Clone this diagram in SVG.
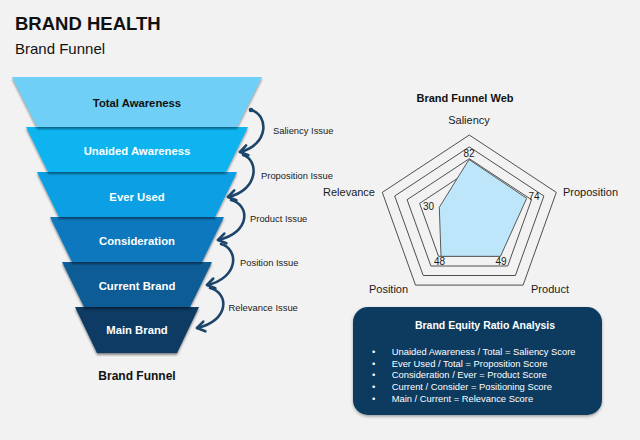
<svg xmlns="http://www.w3.org/2000/svg" width="640" height="440" viewBox="0 0 640 440">
<style>
.t{font-family:"Liberation Sans",Arial,sans-serif}
.lay{font-family:"Liberation Sans",Arial,sans-serif;font-weight:bold;font-size:11.3px;text-anchor:middle;fill:#fff}
.iss{font-family:"Liberation Sans",Arial,sans-serif;font-size:9.4px;fill:#1a1a1a}
.ax{font-family:"Liberation Sans",Arial,sans-serif;font-size:11px;fill:#1a1a1a}
.val{font-family:"Liberation Sans",Arial,sans-serif;font-size:10px;fill:#1a1a1a;text-anchor:middle}
.ring{fill:none;stroke:#3c3c3c;stroke-width:0.9}
.arc{fill:none;stroke:#1d4469;stroke-width:2.6;stroke-linecap:round;marker-end:url(#chev)}
.bl{font-family:"Liberation Sans",Arial,sans-serif;font-size:9.4px;fill:#fff}
</style>
<defs>
<filter id="sh" x="-10%" y="-10%" width="120%" height="140%">
<feDropShadow dx="0" dy="2" stdDeviation="1" flood-color="#000" flood-opacity="0.45"/>
</filter>
<filter id="bsh" x="-10%" y="-10%" width="120%" height="130%">
<feDropShadow dx="0" dy="1.5" stdDeviation="1.5" flood-color="#000" flood-opacity="0.35"/>
</filter>
<marker id="chev" markerUnits="userSpaceOnUse" markerWidth="16" markerHeight="16" refX="0" refY="0" viewBox="-10 -8 12 16" orient="auto">
<path d="M-7.5,-5 L0,0 L-7.5,5" fill="none" stroke="#1d4469" stroke-width="2.6" stroke-linecap="round" stroke-linejoin="round"/>
</marker>
</defs>
<rect width="640" height="440" fill="#f2f2f2"/>
<text class="t" x="15" y="30" font-size="18.5" font-weight="bold" fill="#111">BRAND HEALTH</text>
<text class="t" x="15" y="54" font-size="15" fill="#111">Brand Funnel</text>

<g id="funnel">
<g id="main-brand"><path d="M75,307 L199,307 L177,353 L97,353 Z" fill="#0b3b64" filter="url(#sh)"/><text class="lay" x="137" y="334">Main Brand</text></g>
<g id="current-brand"><path d="M62,262 L212,262 L190,307 L84,307 Z" fill="#0c5b95" filter="url(#sh)"/><text class="lay" x="137" y="290">Current Brand</text></g>
<g id="consideration"><path d="M50,217 L224,217 L202,262 L72,262 Z" fill="#0a78bd" filter="url(#sh)"/><text class="lay" x="137" y="245">Consideration</text></g>
<g id="ever-used"><path d="M37,172 L237,172 L215,217 L59,217 Z" fill="#079fe3" filter="url(#sh)"/><text class="lay" x="137" y="201">Ever Used</text></g>
<g id="unaided-awareness"><path d="M26,127 L248,127 L226,172 L48,172 Z" fill="#0bb4ef" filter="url(#sh)"/><text class="lay" x="137" y="155">Unaided Awareness</text></g>
<g id="total-awareness"><path d="M12,77 L262,77 L237,127 L37,127 Z" fill="#6fcff7" filter="url(#sh)"/><text class="lay" x="137" y="106.5" fill="#111" style="fill:#111">Total Awareness</text></g>
</g>
<text class="t" x="137" y="379.5" font-size="12" font-weight="bold" text-anchor="middle" fill="#111">Brand Funnel</text>

<g id="connectors">
<circle cx="251" cy="110" r="2.3" fill="#1d4469"/>
<path class="arc" d="M251,110 C269,115 269,145 240,152"/>
<path class="arc" d="M243,155 C259,160 259,190 228,197"/>
<path class="arc" d="M231,200 C250.5,205 250.5,233 218,240"/>
<path class="arc" d="M221,244 C239,249 239,278 207,285"/>
<path class="arc" d="M210,288 C229.5,293 229.5,321 197,328"/>
</g>
<g id="issue-labels">
<text class="iss" x="273" y="134">Saliency Issue</text>
<text class="iss" x="261" y="178.5">Proposition Issue</text>
<text class="iss" x="250" y="222">Product Issue</text>
<text class="iss" x="240" y="266">Position Issue</text>
<text class="iss" x="228.5" y="311">Relevance Issue</text>
</g>

<g id="radar">
<text class="t" x="465" y="101.5" font-size="11" font-weight="bold" text-anchor="middle" fill="#111">Brand Funnel Web</text>
<polygon class="ring" points="469.3,135 556.3,192.4 523.1,285.1 415.5,285.1 382.3,192.4"/>
<polygon class="ring" points="469.3,146.9 543.9,196 515.4,275.5 423.2,275.5 394.7,196"/>
<polygon class="ring" points="469.3,158.7 531.5,199.7 507.7,266 430.9,266 407.1,199.7"/>
<polygon class="ring" points="469.3,170.6 519,203.4 500.1,256.3 438.5,256.3 419.6,203.4"/>
<polygon points="469,159.5 526.7,198.3 500.5,256.3 441,256.3 439.3,207.3" fill="#bde6fb" stroke="#5a5a5a" stroke-width="1"/>
<text class="val" x="469" y="156.5">82</text>
<text class="val" x="534" y="200">74</text>
<text class="val" x="501" y="265">49</text>
<text class="val" x="439.5" y="265">48</text>
<text class="val" x="428.5" y="209.5">30</text>
<text class="ax" x="469" y="124" text-anchor="middle">Saliency</text>
<text class="ax" x="563" y="195.5">Proposition</text>
<text class="ax" x="375" y="195.5" text-anchor="end">Relevance</text>
<text class="ax" x="388.5" y="293" text-anchor="middle">Position</text>
<text class="ax" x="550" y="293" text-anchor="middle">Product</text>
</g>

<g id="ratio-box">
<rect x="353" y="307" width="249" height="108" rx="15" fill="#0d3b5e" filter="url(#bsh)"/>
<text class="t" x="485" y="328.7" font-size="10.5" font-weight="bold" text-anchor="middle" fill="#fff">Brand Equity Ratio Analysis</text>
<g class="bl">
<text x="372" y="355">•</text><text x="391.7" y="355">Unaided Awareness / Total = Saliency Score</text>
<text x="372" y="366.6">•</text><text x="391.7" y="366.6">Ever Used / Total = Proposition Score</text>
<text x="372" y="378.3">•</text><text x="391.7" y="378.3">Consideration / Ever = Product Score</text>
<text x="372" y="390">•</text><text x="391.7" y="390">Current / Consider = Positioning Score</text>
<text x="372" y="401.6">•</text><text x="391.7" y="401.6">Main / Current = Relevance Score</text>
</g>
</g>
</svg>
